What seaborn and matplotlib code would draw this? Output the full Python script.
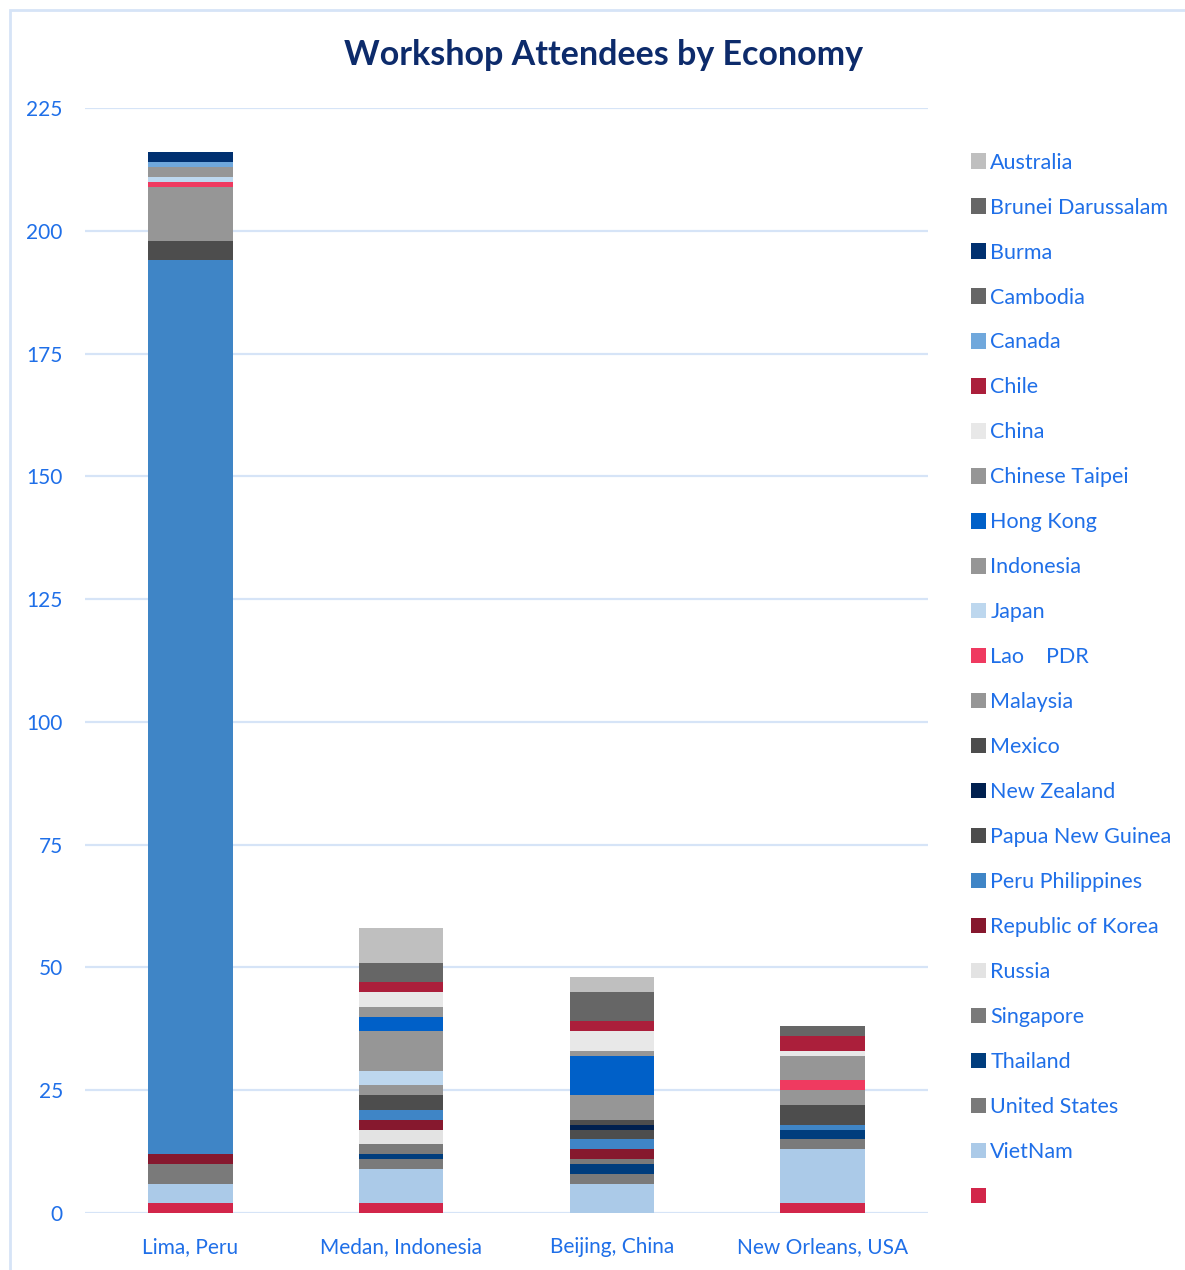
import numpy as np
import pandas as pd
import matplotlib
matplotlib.use('Agg')
import matplotlib.pyplot as plt
from matplotlib.patches import Patch, Rectangle
import seaborn as sns

# sites on the x axis
sites = ['Lima, Peru', 'Medan, Indonesia', 'Beijing, China', 'New Orleans, USA']

# series, bottom of the stack first
economies = ['', 'VietNam', 'United States', 'Thailand', 'Singapore', 'Russia',
             'Republic of Korea', 'Peru Philippines', 'Papua New Guinea', 'New Zealand',
             'Mexico', 'Malaysia', 'Lao    PDR', 'Japan', 'Indonesia', 'Hong Kong',
             'Chinese Taipei', 'China', 'Chile', 'Canada', 'Cambodia', 'Burma',
             'Brunei Darussalam', 'Australia']

# attendees per site, same order as economies
lima = [2, 4, 4, 0, 0, 0, 2, 182, 0, 0, 4, 11, 1, 1, 2, 0, 0, 0, 0, 1, 0, 2, 0, 0]
medan = [2, 7, 2, 1, 2, 3, 2, 2, 3, 0, 0, 2, 0, 3, 8, 3, 2, 3, 2, 0, 4, 0, 0, 7]
beijing = [0, 6, 2, 2, 1, 0, 2, 2, 2, 1, 1, 0, 0, 0, 5, 8, 1, 4, 2, 0, 6, 0, 0, 3]
new_orleans = [2, 11, 2, 2, 0, 0, 0, 1, 0, 0, 4, 3, 2, 0, 5, 0, 0, 1, 3, 0, 2, 0, 0, 0]

colors = ['#d2264a', '#abcae8', '#7a7a7a', '#003d7d', '#7a7a7a', '#e3e3e3',
          '#86182e', '#3f85c6', '#4d4d4d', '#00204f', '#4d4d4d', '#969696',
          '#ef3a60', '#bdd7ee', '#969696', '#0060c8', '#969696', '#e8e8e8',
          '#ab1f3b', '#70a8dc', '#666666', '#003070', '#666666', '#bfbfbf']

blue = '#1f6fe8'
grid_col = '#d6e4f7'

sns.set_style('white')
plt.rcParams['font.family'] = ['Lato', 'DejaVu Sans']

fig = plt.figure(figsize=(11.85, 12.70), dpi=100)
ax = fig.add_axes([85 / 1185, 1 - 1213 / 1270, 843 / 1185, 1105 / 1270])

# outer chart border
fig.patches.append(Rectangle((10 / 1185, -0.01), 1.0, 1 - 10 / 1270 + 0.01,
                             transform=fig.transFigure, fill=False,
                             edgecolor=grid_col, linewidth=2, zorder=0))

for y in range(0, 226, 25):
    ax.axhline(y, color=grid_col, linewidth=1.6, zorder=0)

df = pd.DataFrame({'site': sites})
bottom = np.zeros(len(sites))
for i, name in enumerate(economies):
    vals = np.array([lima[i], medan[i], beijing[i], new_orleans[i]], dtype=float)
    df['count'] = vals
    sns.barplot(data=df, x='site', y='count', order=sites, bottom=bottom,
                color=colors[i], saturation=1, width=0.40, errorbar=None,
                linewidth=0, ax=ax, zorder=2)
    bottom = bottom + vals

ax.set_xlim(-0.5, 3.5)
ax.set_ylim(0, 225)
ax.set_yticks(range(0, 226, 25))
ax.set_xlabel('')
ax.set_ylabel('')
ax.tick_params(axis='y', labelsize=15, labelcolor=blue, length=0, pad=16)
ax.tick_params(axis='x', labelsize=15, labelcolor=blue, length=0, pad=17)
for s in ax.spines.values():
    s.set_visible(False)

fig.text(603 / 1185, 1 - 55 / 1270, 'Workshop Attendees by Economy',
         ha='center', va='center', fontsize=24.5, fontweight='bold', color='#0d2b6b')

handles = [Patch(facecolor=colors[i], edgecolor='none', label=economies[i])
           for i in range(len(economies))][::-1]
leg = fig.legend(handles=handles, loc='upper left',
                 bbox_to_anchor=(962 / 1185, 1 - 144 / 1270), frameon=False,
                 fontsize=15.5, labelcolor=blue, handlelength=0.72, handleheight=0.72,
                 handletextpad=0.2, labelspacing=1.16, borderaxespad=0)

fig.savefig('out.png', dpi=100)
